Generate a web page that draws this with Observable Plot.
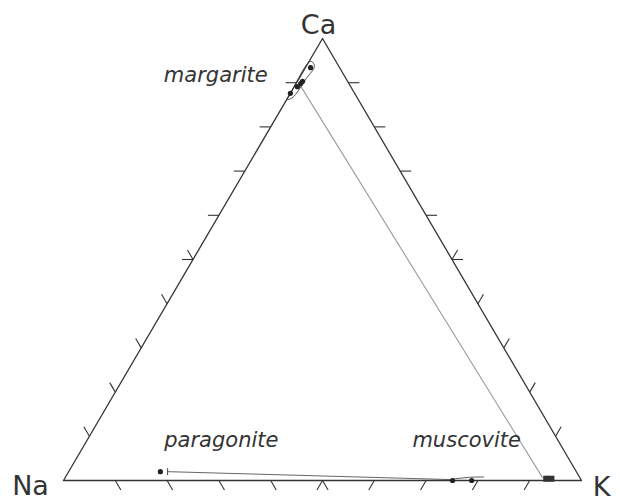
<!DOCTYPE html>
<html>
<head>
<meta charset="utf-8">
<script src="https://cdn.jsdelivr.net/npm/d3@7"></script>
<script src="https://cdn.jsdelivr.net/npm/@observablehq/plot@0.6"></script>
<style>
  html, body { margin: 0; padding: 0; background: #fff; }
  #chart svg { display: block; }
</style>
</head>
<body>
<div id="chart"></div>
<script>
// Compositions are listed as [Na, K, Ca], in mole percent.
const corners = ["Na", "K", "Ca"];
const cornerComps = [[100, 0, 0], [0, 100, 0], [0, 0, 100]];

const margarite = [[5.6, 1.0, 93.4], [8.7, 1.0, 90.3], [9.3, 0.9, 89.8], [10.3, 0.6, 89.1], [12.4, 0.0, 87.6]];
const margariteField = [[13.7, 0.1, 86.2], [12.5, 0.9, 86.6], [7.6, 1.4, 91.0], [4.7, 1.6, 93.7], [4.7, 0.5, 94.8], [5.5, 0.0, 94.5], [12.0, 0.0, 88.0]];

const paragonite = [[80.3, 17.7, 2.0]];
const paragoniteRange = [[78.9, 19.1, 2.0], [24.8, 75.0, 0.2]];

const muscovite = [[24.9, 75.1, 0.0], [21.2, 78.8, 0.0]];
const muscoviteField = [[24.8, 74.9, 0.3], [21.5, 77.8, 0.7], [18.5, 80.7, 0.8]];
const muscoviteRich = [[6.6, 92.9, 0.4], [5.6, 93.9, 0.4]];

// margarite – muscovite tie line
const tieLine = [[9.6, 1.0, 89.4], [7.2, 92.1, 0.7]];

const tickSteps = [10, 20, 30, 40, 50, 60, 70, 80, 90];
const mineralNames = ["margarite", "paragonite", "muscovite"];

// ---- layout ----
const width = 620, height = 501;
const mLeft = 63, mRight = 39, mTop = 38, mBottom = 21;
const plotW = width - mLeft - mRight;   // pixels per unit of x
const plotH = height - mTop - mBottom;  // pixels per unit of y

// ternary -> cartesian (x across the Na–K base, y toward Ca)
const tx = ([na, k, ca]) => (k + ca / 2) / (na + k + ca);
const ty = ([na, k, ca]) => ca / (na + k + ca);

// tick directions in screen space, parallel to the triangle's edges
const edgeLen = Math.hypot(plotW / 2, plotH);
const ux = (plotW / 2) / edgeLen, uy = plotH / edgeLen;
const dirs = {
  left: [-1, 0], right: [1, 0],
  upLeft: [-ux, -uy], downRight: [ux, uy],
  upRight: [ux, -uy], downLeft: [-ux, uy]
};
const tickLen = 11;

const ticks = [];
function addTicks(compAt, lowDir, highDir) {
  for (const s of tickSteps) {
    const c = compAt(s);
    const use = s < 50 ? [lowDir] : s > 50 ? [highDir] : [lowDir, highDir];
    for (const d of use) {
      const [dx, dy] = dirs[d];
      ticks.push({
        x1: tx(c), y1: ty(c),
        x2: tx(c) + dx * tickLen / plotW,
        y2: ty(c) - dy * tickLen / plotH
      });
    }
  }
}
addTicks(s => [100 - s, s, 0], "downRight", "downLeft"); // Na–K base
addTicks(s => [100 - s, 0, s], "upLeft", "left");         // Na–Ca side
addTicks(s => [0, 100 - s, s], "upRight", "right");       // K–Ca side

const outline = [...cornerComps, cornerComps[0]];
const ink = "#333";
const font = "DejaVu Sans, Liberation Sans, sans-serif";

const chart = Plot.plot({
  width, height,
  marginLeft: mLeft, marginRight: mRight, marginTop: mTop, marginBottom: mBottom,
  x: { domain: [0, 1], axis: null },
  y: { domain: [0, 1], axis: null },
  style: { fontFamily: font, background: "#fff" },
  marks: [
    // tie line
    Plot.line(tieLine, { x: tx, y: ty, stroke: "#9a9a9a", strokeWidth: 1.1 }),
    // paragonite – muscovite solvus extent
    Plot.line(paragoniteRange, { x: tx, y: ty, stroke: "#555", strokeWidth: 0.9 }),
    // analysed field outlines
    Plot.line(margariteField, { x: tx, y: ty, curve: "catmull-rom-closed", stroke: "#444", strokeWidth: 0.9 }),
    Plot.line(muscoviteField, { x: tx, y: ty, curve: "catmull-rom", stroke: "#444", strokeWidth: 0.9 }),
    // triangle and its ticks
    Plot.line(outline, { x: tx, y: ty, stroke: ink, strokeWidth: 1.3 }),
    Plot.link(ticks, { x1: "x1", y1: "y1", x2: "x2", y2: "y2", stroke: ink, strokeWidth: 1.1 }),
    // end cap of the paragonite range
    Plot.link(paragoniteRange.slice(0, 1), {
      x1: tx, x2: tx,
      y1: c => ty(c) - 3.5 / plotH, y2: c => ty(c) + 3.5 / plotH,
      stroke: "#444", strokeWidth: 1
    }),
    // analyses
    Plot.dot(margarite, { x: tx, y: ty, r: 2.6, fill: "#222", stroke: "none" }),
    Plot.dot(paragonite, { x: tx, y: ty, r: 2.6, fill: "#222", stroke: "none" }),
    Plot.dot(muscovite, { x: tx, y: ty, r: 2.6, fill: "#222", stroke: "none" }),
    Plot.dot(muscoviteRich, { x: tx, y: ty, symbol: "square", r: 3.4, fill: "#333", stroke: "none" }),
    // corner labels
    Plot.text([corners[2]], { x: () => tx(cornerComps[2]), y: () => ty(cornerComps[2]), text: d => d, dx: -4, dy: -13, fontSize: 27, fill: ink }),
    Plot.text([corners[0]], { x: () => tx(cornerComps[0]), y: () => ty(cornerComps[0]), text: d => d, dx: -33, dy: 6, fontSize: 27, fill: ink }),
    Plot.text([corners[1]], { x: () => tx(cornerComps[1]), y: () => ty(cornerComps[1]), text: d => d, dx: 20, dy: 7, fontSize: 27, fill: ink }),
    // mineral labels
    Plot.text([mineralNames[0]], { x: () => tx(margarite[2]), y: () => ty(margarite[2]), text: d => d, dx: -85, dy: -8, fontSize: 21, fontStyle: "italic", fill: ink }),
    Plot.text([mineralNames[1]], { x: () => tx(paragonite[0]), y: () => ty(paragonite[0]), text: d => d, dx: 61, dy: -31, fontSize: 21, fontStyle: "italic", fill: ink }),
    Plot.text([mineralNames[2]], { x: () => tx(muscovite[1]), y: () => ty(muscovite[1]), text: d => d, dx: -5, dy: -40, fontSize: 21, fontStyle: "italic", fill: ink })
  ]
});

document.getElementById("chart").appendChild(chart);
</script>
</body>
</html>
